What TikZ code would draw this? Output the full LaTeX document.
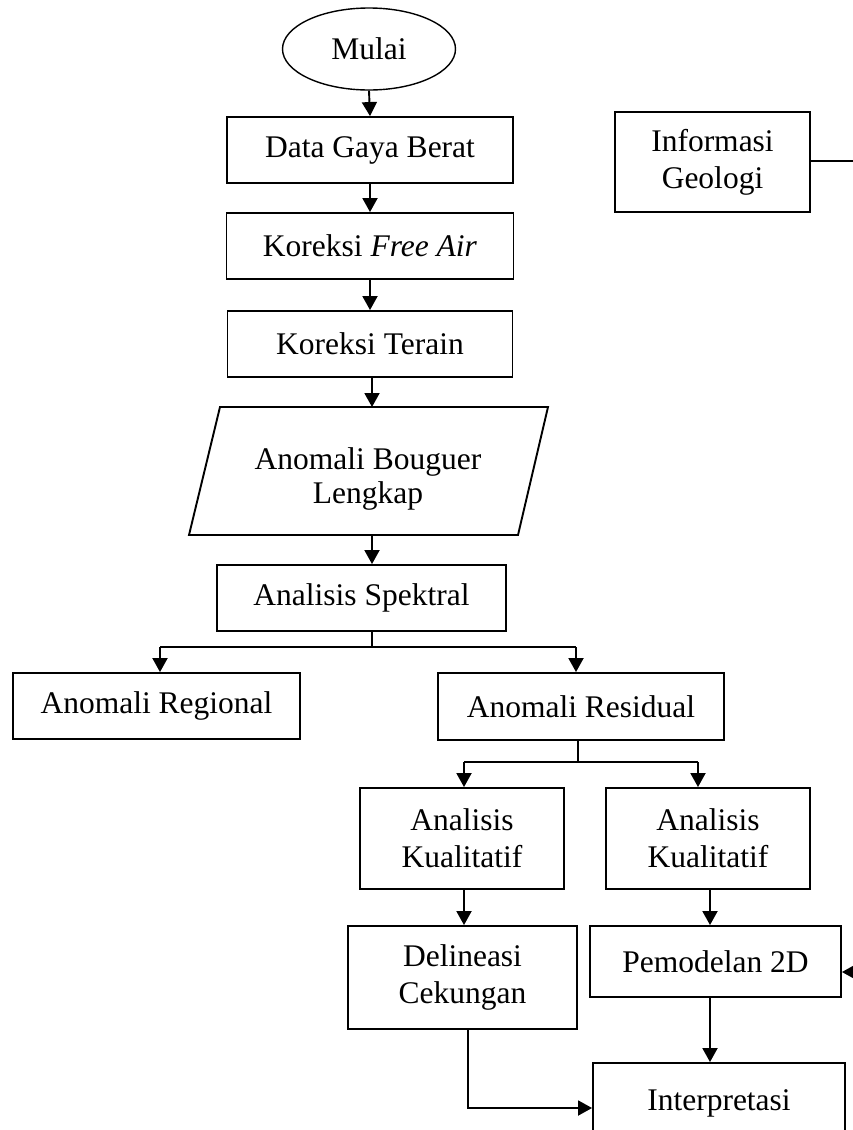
\documentclass[tikz,border=0pt]{standalone}
\usepackage{fontspec}
\setmainfont{Liberation Serif}
\usetikzlibrary{arrows.meta,shapes.geometric}
\begin{document}
\begin{tikzpicture}[x=1pt,y=-1pt,
  txt/.style={align=center, inner sep=0pt, font=\fontsize{31.5}{37}\selectfont},
  box/.style={txt, draw, rectangle, line width=1.9pt},
  arr/.style={line width=1.9pt, -{Triangle[length=14pt,width=15pt]}},
  thinline/.style={line width=1.1pt}]
\useasboundingbox (0,0) rectangle (853,1130);
\clip (0,0) rectangle (853,1130);
% nodes
\node[txt, draw, ellipse, line width=1.4pt, minimum width=173, minimum height=82] (mulai) at (369,49) {Mulai};
\node[box, minimum width=286, minimum height=66] (data) at (370,150) {Data Gaya Berat};
\node[box, minimum width=287, minimum height=66] (freeair) at (370,246) {Koreksi \textit{Free Air}};
\node[box, minimum width=285, minimum height=66] (terain) at (370,344) {Koreksi Terain};
\draw[line width=1.9pt] (220,407) -- (548,407) -- (518,535) -- (189,535) -- cycle;
\node[txt, font=\fontsize{31.5}{34}\selectfont] (bouguer) at (368,479) {Anomali Bouguer\\Lengkap};
\coordinate (bgtop) at (372,407);
\coordinate (bgbot) at (372,535);
\node[box, minimum width=289, minimum height=66] (spektral) at (361.5,598) {Analisis Spektral};
\node[box, minimum width=287, minimum height=66] (regional) at (156.5,706) {Anomali Regional};
\node[box, minimum width=286, minimum height=67] (residual) at (581,706.5) {Anomali Residual};
\node[box, minimum width=204, minimum height=101] (ana1) at (462,838.5) {Analisis\\Kualitatif};
\node[box, minimum width=204, minimum height=101] (ana2) at (708,838.5) {Analisis\\Kualitatif};
\node[box, minimum width=229, minimum height=103] (delin) at (462.5,977.5) {Delineasi\\Cekungan};
\node[box, minimum width=251, minimum height=71] (pemod) at (715.5,961.5) {Pemodelan 2D};
\node[box, minimum width=252, minimum height=80] (interp) at (719,1103) {Interpretasi};
\node[box, minimum width=195, minimum height=100] (info) at (712.5,162) {Informasi\\Geologi};
% main chain
\draw[arr] (mulai.south) -- (data.north);
\draw[arr] (data.south) -- (freeair.north);
\draw[arr] (freeair.south) -- (terain.north);
\draw[arr] (bgtop |- terain.south) -- (bgtop);
\draw[arr] (bgbot) -- (bgbot |- spektral.north);
% branch 1
\coordinate (j1) at (372,647);
\coordinate (rg) at (160,647);
\coordinate (rs) at (576,647);
\draw[thinline] (j1 |- spektral.south) -- (j1);
\draw[thinline] (rg) -- (rs);
\draw[arr] (rg) -- (rg |- regional.north);
\draw[arr] (rs) -- (rs |- residual.north);
% branch 2
\coordinate (j2) at (578,762);
\coordinate (k1) at (464,762);
\coordinate (k2) at (698,762);
\draw[thinline] (j2 |- residual.south) -- (j2);
\draw[thinline] (k1) -- (k2);
\draw[arr] (k1) -- (k1 |- ana1.north);
\draw[arr] (k2) -- (k2 |- ana2.north);
% lower part
\coordinate (l1) at (464,0);
\draw[arr] (l1 |- ana1.south) -- (l1 |- delin.north);
\coordinate (v2) at (710,0);
\draw[arr] (v2 |- ana2.south) -- (v2 |- pemod.north);
\draw[arr] (v2 |- pemod.south) -- (v2 |- interp.north);
\coordinate (d1) at (468,1108);
\draw[arr] (d1 |- delin.south) -- (d1) -- (d1 -| interp.west);
% geology info
\coordinate (ge) at (860,161);
\draw[thinline] (info.east |- ge) -- (ge);
\coordinate (pe) at (860,972);
\draw[arr] (pe) -- (pe -| pemod.east);
\end{tikzpicture}
\end{document}
